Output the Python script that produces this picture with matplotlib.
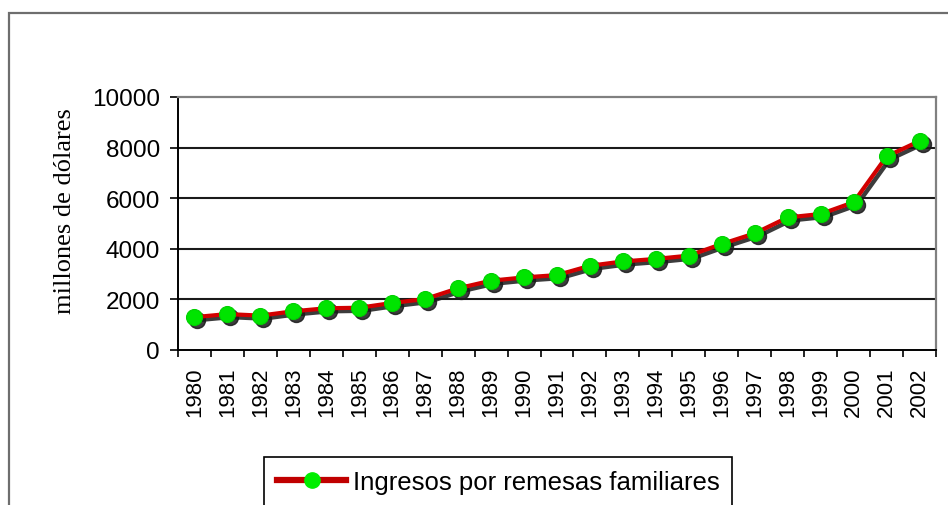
import matplotlib
matplotlib.use("Agg")
import matplotlib.pyplot as plt
from matplotlib.transforms import offset_copy
from matplotlib.patches import Rectangle
from matplotlib.lines import Line2D

years = [str(y) for y in range(1980, 2003)]
remesas = [1300, 1420, 1360, 1530, 1650, 1670, 1860, 2015, 2440, 2740,
           2870, 2960, 3330, 3500, 3600, 3730, 4190, 4610, 5240, 5375,
           5840, 7650, 8260]
yticks = [0, 2000, 4000, 6000, 8000, 10000]
series_label = "Ingresos por remesas familiares"
ylabel = "millones de dólares"

W, H = 948, 506
fig = plt.figure(figsize=(W / 100, H / 100), dpi=100)
fig.patch.set_facecolor("white")

# outer chart frame (cut off at right and bottom)
fig.patches.append(Rectangle((9 / W, -0.1), 1.2, (1 - 14 / H) + 0.1,
                             transform=fig.transFigure, fill=False,
                             edgecolor="#6e6e6e", linewidth=1.6))

ax = fig.add_axes([178 / W, 1 - 351 / H, (936 - 178) / W, (351 - 98) / H])
x = list(range(len(years)))

# shadow
shadow_tr = offset_copy(ax.transData, fig=fig, x=3, y=-3, units="dots")
ax.plot(x, remesas, color="#1a1a1a", linewidth=3.2, marker="o",
        markersize=11.5, markerfacecolor="#1a1a1a", markeredgecolor="#1a1a1a",
        transform=shadow_tr, zorder=3, alpha=0.85)
ax.plot(x, remesas, color="#d20000", linewidth=3.0, marker="o",
        markersize=11.5, markerfacecolor="#00e400", markeredgecolor="#00d000",
        markeredgewidth=0.8, zorder=4)

ax.set_xlim(-0.5, len(years) - 0.5)
ax.set_ylim(0, 10000)
ax.set_yticks(yticks)
ax.set_yticklabels([str(v) for v in yticks], fontsize=17.5,
                   family="Liberation Sans")
ax.set_xticks(x)
ax.set_xticklabels(years, rotation=90, fontsize=16, family="Liberation Sans")
ax.set_xticks([i - 0.5 for i in range(len(years) + 1)], minor=True)
ax.tick_params(axis="x", which="major", length=0, pad=12)
ax.tick_params(axis="x", which="minor", length=5, width=1.2, direction="out",
               color="black")
ax.tick_params(axis="y", which="major", length=6, width=1.2, pad=7,
               direction="out", color="black")

for v in yticks[1:-1]:
    ax.axhline(v, color="#1a1a1a", linewidth=1.5, zorder=1)

for side in ("left", "bottom"):
    ax.spines[side].set_color("black")
    ax.spines[side].set_linewidth(1.4)
for side in ("top", "right"):
    ax.spines[side].set_color("#808080")
    ax.spines[side].set_linewidth(1.6)

ax.set_ylabel(ylabel, fontsize=19, family="Liberation Serif", va="center")
ax.yaxis.set_label_coords((65 - 178) / 758, (351 - 211.5) / 253)

handle = Line2D([0], [0], color="#c00000", linewidth=4.5, marker="o",
                markersize=11, markerfacecolor="#00ee00",
                markeredgecolor="#00ee00")
leg = fig.legend([handle], [series_label], loc="upper left",
                 bbox_to_anchor=(264 / W, 1 - 458 / H),
                 prop={"family": "Liberation Sans", "size": 18.5},
                 frameon=True, fancybox=False, framealpha=1,
                 edgecolor="black", handlelength=2.7, handletextpad=0.25,
                 borderpad=0.5, borderaxespad=0)
leg.get_frame().set_linewidth(1.2)

fig.savefig("out.png", dpi=100)
